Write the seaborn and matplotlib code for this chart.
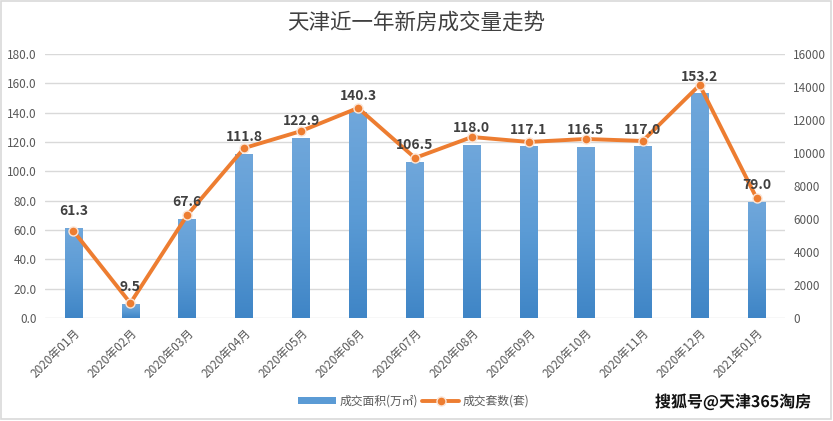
import numpy as np
import pandas as pd
import matplotlib
matplotlib.use("Agg")
import matplotlib.pyplot as plt
import seaborn as sns
from matplotlib.colors import LinearSegmentedColormap
from matplotlib.lines import Line2D
from matplotlib.patches import Patch
import matplotlib.patheffects as pe

# datos
meses = ["2020年01月", "2020年02月", "2020年03月", "2020年04月", "2020年05月",
         "2020年06月", "2020年07月", "2020年08月", "2020年09月", "2020年10月",
         "2020年11月", "2020年12月", "2021年01月"]
area = [61.3, 9.5, 67.6, 111.8, 122.9, 140.3, 106.5, 118.0, 117.1, 116.5, 117.0, 153.2, 79.0]
taoshu = [5270, 900, 6240, 10300, 11330, 12730, 9700, 10970, 10670, 10850, 10730, 14120, 7270]

df = pd.DataFrame({"mes": meses, "area": area, "taoshu": taoshu})

sns.set_style("white")
plt.rcParams["font.family"] = ["Noto Sans CJK SC", "DejaVu Sans"]

gris = "#595959"
azul = "#5B9BD5"
naranja = "#ED7D31"

fig = plt.figure(figsize=(8.33, 4.21), dpi=100)
fig.patch.set_facecolor("white")
ax = fig.add_axes([0.054, 0.2447, 0.8884, 0.627])

sns.barplot(data=df, x="mes", y="area", ax=ax, color=azul, width=0.31,
            saturation=1, zorder=2)

# degradado en las barras
cmap = LinearSegmentedColormap.from_list("g", ["#3F85C6", "#5B9BD5", "#70A7DB"])
grad = np.linspace(0, 1, 256).reshape(-1, 1)
for p in ax.patches:
    x0, y0 = p.get_x(), p.get_y()
    w, h = p.get_width(), p.get_height()
    im = ax.imshow(grad, extent=[x0, x0 + w, y0, y0 + h], origin="lower",
                   cmap=cmap, aspect="auto", zorder=2)
    im.set_clip_path(p)
    p.set_facecolor("none")
    p.set_edgecolor("none")

ax.set_ylim(0, 180)
ax.set_yticks(np.arange(0, 181, 20))
ax.set_yticklabels([f"{v:.1f}" for v in np.arange(0, 181, 20)])
ax.grid(axis="y", color="#D9D9D9", linewidth=1, zorder=0)
ax.set_axisbelow(True)
for s in ax.spines.values():
    s.set_visible(False)
ax.set_xlabel("")
ax.set_ylabel("")
ax.tick_params(axis="both", length=0, colors=gris, labelsize=8.5, pad=6)
plt.setp(ax.get_xticklabels(), rotation=45, ha="right", rotation_mode="anchor")

ax2 = ax.twinx()
sns.pointplot(data=df, x="mes", y="taoshu", ax=ax2, color=naranja,
              linewidth=2.8, markersize=6.5, markeredgecolor="#FBE5D6",
              markeredgewidth=1.0, zorder=3)
ax2.set_ylim(0, 16000)
ax2.set_yticks(np.arange(0, 16001, 2000))
ax2.set_ylabel("")
ax2.set_xlabel("")
for s in ax2.spines.values():
    s.set_visible(False)
ax2.tick_params(axis="y", length=0, colors=gris, labelsize=8.5, pad=6)
ax.set_xlim(-0.5, len(meses) - 0.5)
ax2.set_xlim(-0.5, len(meses) - 0.5)

# etiquetas de las barras
for i, v in enumerate(area):
    ax2.annotate(f"{v:.1f}", xy=(i, v), xycoords=ax.transData,
                 xytext=(0, 7), textcoords="offset points", ha="center",
                 va="bottom", fontsize=10, fontweight="bold", color="#404040",
                 zorder=5)

fig.text(0.5, 0.945, "天津近一年新房成交量走势", ha="center", va="center",
         fontsize=15.5, color="#404040")

handles = [Patch(facecolor=azul, edgecolor="none"),
           Line2D([0], [0], color=naranja, linewidth=2.8, marker="o",
                  markersize=6.5, markeredgecolor="#FBE5D6")]
fig.legend(handles, ["成交面积(万㎡)", "成交套数(套)"], loc="center",
           bbox_to_anchor=(0.497, 0.047), ncol=2, frameon=False,
           fontsize=8.5, labelcolor=gris, handlelength=3.2, handleheight=0.6,
           columnspacing=0.3, handletextpad=0.3)

fig.text(0.88, 0.045, "搜狐号@天津365淘房", ha="center", va="center",
         fontsize=11.5, fontweight="bold", color="#111111",
         path_effects=[pe.withStroke(linewidth=2, foreground="white")])

# borde
fig.patches.append(plt.Rectangle((0.001, 0.004), 0.997, 0.993,
                                 transform=fig.transFigure, fill=False,
                                 edgecolor="#D9D9D9", linewidth=1.2))

fig.savefig("out.png", dpi=100)
